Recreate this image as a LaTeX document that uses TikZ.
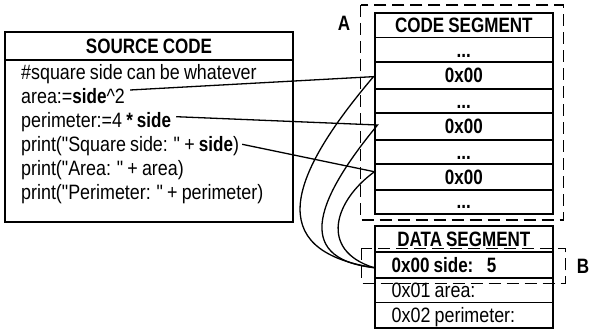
\documentclass[tikz,border=0pt]{standalone}
\usepackage{fontspec}
\setmainfont{Liberation Sans}[FakeStretch=0.86, WordSpace=0.84, Ligatures=TeXOff,
  BoldFeatures={FakeStretch=0.82}]
\usetikzlibrary{calc}

\begin{document}
\begin{tikzpicture}[x=1pt,y=-1pt,
  txt/.style={font=\fontsize{20.8}{24}\selectfont},
  cell/.style={draw, line width=1pt, minimum width=176.3pt, inner sep=0pt,
    text height=15pt, text depth=0pt, font=\fontsize{20.8}{24}\selectfont\bfseries},
  leftcell/.style={cell, text width=144.3pt, inner xsep=16pt, align=flush left},
  codeline/.style={txt, anchor=base west, inner sep=0pt},
  boxline/.style={line width=2pt},
  sepline/.style={line width=2pt},
  link/.style={line width=1.3pt},
  segframe/.style={line width=1.4pt, dash pattern=on 12pt off 6pt},
  tag/.style={font=\fontsize{20.8}{24}\selectfont\bfseries, inner sep=0pt}
]
\useasboundingbox (0,0) rectangle (589,329);

% ---- source code listing ----
\node[draw, line width=1pt, minimum width=286.6pt, minimum height=26.6pt, inner sep=0pt,
      text height=15pt, text depth=0pt, font=\fontsize{20.8}{24}\selectfont\bfseries]
      (src) at (149,46) {SOURCE CODE};
\node[draw, line width=1pt, minimum width=286.6pt, minimum height=160.7pt, anchor=north]
      (srcbody) at (src.south) {};
\draw[boxline] (src.north west) rectangle (srcbody.south east);

\node[codeline] (l1) at (21,80)    {\#square side can be whatever};
\node[codeline] (l2) at (21,103.8) {area:=\textbf{side}\textasciicircum 2};
\node[codeline] (l3) at (21,127.6) {perimeter:=4 \textbf{* side}};
\node[codeline] (l4) at (21,151.4) {print("Square side: " + \textbf{side})};
\node[codeline] (l5) at (21,175.2) {print("Area: " + area)};
\node[codeline] (l6) at (21,199)   {print("Perimeter: " + perimeter)};

% ---- code segment ----
\node[cell, minimum height=24pt]   (c0) at (463.85,25.3)   {CODE SEGMENT};
\node[cell, minimum height=25pt]   (c1) at (463.85,49.8)   {...};
\node[cell, minimum height=25.7pt] (c2) at (463.85,75.15)  {0x00};
\node[cell, minimum height=25.5pt] (c3) at (463.85,100.75) {...};
\node[cell, minimum height=25.5pt] (c4) at (463.85,126.25) {0x00};
\node[cell, minimum height=25.2pt] (c5) at (463.85,151.6)  {...};
\node[cell, minimum height=25.1pt] (c6) at (463.85,176.75) {0x00};
\node[cell, minimum height=24pt]   (c7) at (463.85,201.3)  {...};
\foreach \r in {c2,c4,c6}{
  \draw[sepline] (\r.north west) -- (\r.north east);
  \draw[sepline] (\r.south west) -- (\r.south east);
}
\draw[boxline] (c0.north west) rectangle (c7.south east);

% ---- data segment ----
\node[cell, minimum height=25.3pt]     (d0) at (463.85,239.35) {DATA SEGMENT};
\node[leftcell, minimum height=25.7pt] (d1) at (463.85,264.85) {0x00 side: \hspace{8pt}5};
\node[leftcell, minimum height=25pt, font=\fontsize{20.8}{24}\selectfont]
      (d2) at (463.85,290.2) {0x01 area:};
\node[leftcell, minimum height=24.8pt, font=\fontsize{20.8}{24}\selectfont]
      (d3) at (463.85,315.1) {0x02 perimeter:};
\draw[sepline] (d1.north west) -- (d1.north east);
\draw[sepline] (d1.south west) -- (d1.south east);
\draw[boxline] (d0.north west) rectangle (d3.south east);

% ---- segment frames and their tags ----
\draw[segframe] (360.7,5) rectangle (563.5,220);
\draw[segframe] (361.7,248.3) rectangle (565.7,283.3);
\node[tag] (tagA) at (344,23.3) {A};
\node[tag] (tagB) at (583,266) {B};

% ---- references from the listing to the segments ----
\coordinate (s1) at ($(l2.base east)+(5,-13.8)$);
\coordinate (s2) at ($(l3.base east)+(5,-10.9)$);
\coordinate (s3) at ($(l4.base east)+(3,-7.1)$);
\coordinate (e1) at ($(c2.west)+(-1.7,1.5)$);
\coordinate (e2) at ($(c4.west)+(2.3,-1.25)$);
\coordinate (e3) at ($(c6.west)+(-0.7,-5)$);
\coordinate (ed) at ($(d1.west)+(-1.4,2.8)$);

\draw[link] (s1) -- (e1) .. controls (290,175) and (262,250) .. (ed);
\draw[link] (s2) -- (e2) .. controls (320,195) and (290,258) .. (ed);
\draw[link] (s3) -- (e3) .. controls (335,200) and (318,250) .. (ed);
\end{tikzpicture}
\end{document}
